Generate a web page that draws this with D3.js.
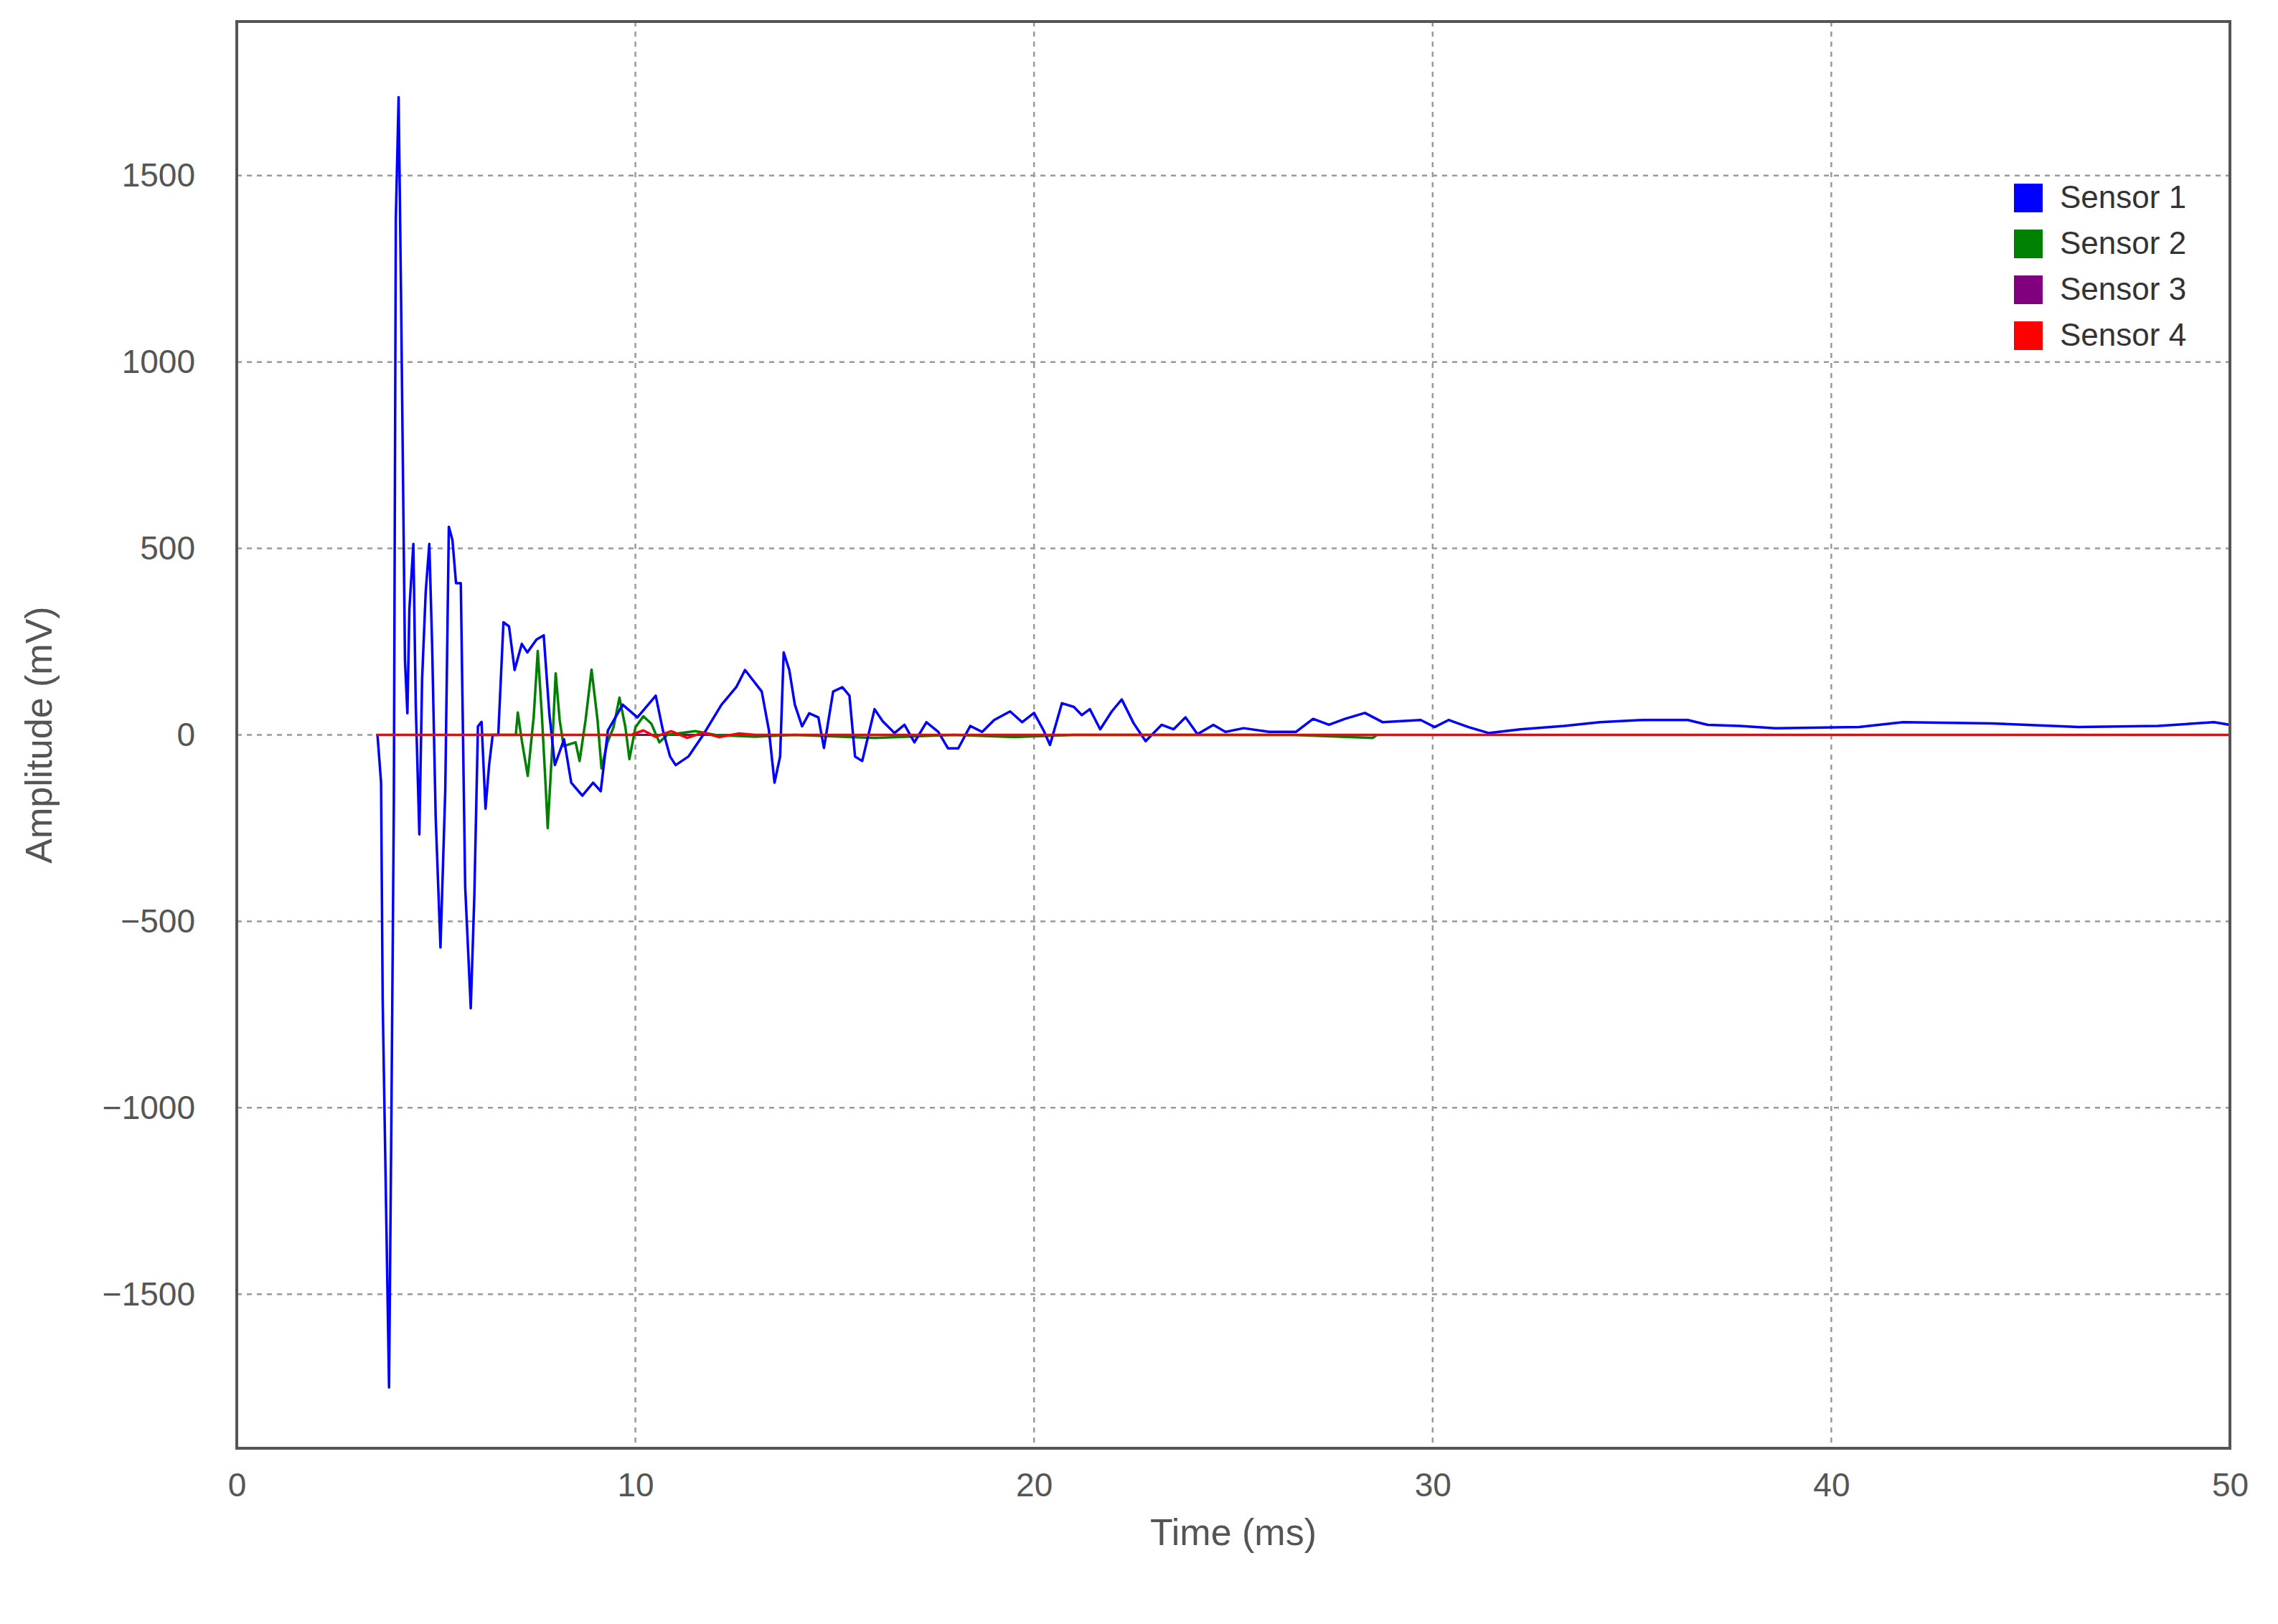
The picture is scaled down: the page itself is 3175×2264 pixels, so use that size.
<!DOCTYPE html>
<html>
<head>
<meta charset="utf-8">
<script src="https://cdn.jsdelivr.net/npm/d3@7"></script>
<style>
body { margin: 0; background: #fff; }
text { font-family: "Liberation Sans", Arial, sans-serif; }
</style>
</head>
<body>
<svg id="chart" width="3175" height="2264"></svg>
<script>
// data: [time ms, amplitude mV]
var sensor1 = [
 [3.53,0],[3.62,-128],[3.66,-710],[3.73,-1163],[3.82,-1750],[3.88,-1012],[3.94,-186],[3.99,1384],
 [4.06,1710],[4.12,1186],[4.22,198],[4.28,58],[4.33,337],[4.43,512],[4.49,81],[4.58,-267],
 [4.65,151],[4.74,384],[4.83,512],[4.90,244],[4.99,-221],[5.11,-570],[5.23,-151],[5.32,558],
 [5.41,523],[5.50,407],[5.62,407],[5.73,-407],[5.87,-733],[5.96,-430],[6.05,23],[6.14,35],
 [6.24,-198],[6.33,-81],[6.42,0],[6.56,0],[6.69,302],[6.83,291],[6.97,174],[7.15,244],
 [7.29,221],[7.52,256],[7.70,267],[7.84,58],[7.98,-81],[8.21,-12],[8.39,-128],[8.67,-163],
 [8.94,-128],[9.13,-151],[9.31,12],[9.68,81],[10.05,47],[10.51,105],[10.69,12],[10.87,-58],
 [11.01,-81],[11.33,-58],[11.70,0],[12.16,81],[12.53,128],[12.75,174],[13.17,116],[13.35,12],
 [13.49,-128],[13.63,-58],[13.72,221],[13.86,174],[14.0,81],[14.18,23],[14.36,58],[14.59,47],
 [14.73,-35],[14.96,116],[15.19,128],[15.37,105],[15.51,-58],[15.69,-70],[16.0,69],[16.2,37],
 [16.5,5],[16.75,27],[17.0,-20],[17.3,34],[17.6,8],[17.84,-36],[18.1,-36],[18.4,24],
 [18.7,8],[19.0,40],[19.4,63],[19.7,34],[20.0,59],[20.24,12],[20.4,-27],[20.7,85],
 [21.0,75],[21.2,53],[21.4,69],[21.66,15],[21.95,63],[22.2,95],[22.5,31],[22.8,-17],
 [23.2,27],[23.5,15],[23.8,47],[24.1,2],[24.5,27],[24.8,8],[25.26,18],[25.9,8],
 [26.57,8],[27.0,43],[27.4,27],[27.8,43],[28.3,59],[28.75,34],[29.7,40],[30.05,21],
 [30.4,40],[30.9,21],[31.4,5],[32.2,15],[33.3,24],[34.2,34],[35.3,40],[36.4,40],
 [36.9,27],[37.7,24],[38.6,18],[40.7,21],[41.8,34],[44.0,31],[46.2,21],[48.2,24],
 [49.6,34],[50.0,27]
];
var sensor2 = [
 [6.0,0],[7.0,0],[7.05,60],[7.15,-15],[7.3,-110],[7.45,50],[7.55,225],[7.65,60],
 [7.75,-140],[7.8,-250],[7.9,-60],[8.0,165],[8.1,40],[8.2,-30],[8.5,-20],[8.6,-70],
 [8.75,40],[8.9,175],[9.05,40],[9.15,-90],[9.3,-20],[9.45,20],[9.6,100],[9.75,20],
 [9.85,-65],[10.0,20],[10.2,50],[10.4,30],[10.6,-20],[10.8,0],[11.5,10],[12.0,0],
 [13.0,-5],[14.0,0],[16.0,-8],[18.0,0],[19.5,-6],[21.0,0],[26.5,0],[28.5,-8],[28.6,0]
];
var sensor3 = [[3.5,0],[50,0]];
var sensor4 = [
 [3.5,0],[9.9,0],[10.2,12],[10.5,-5],[10.9,10],[11.3,-8],[11.7,6],[12.1,-6],[12.6,4],[13.0,0],[50,0]
];
var seriesNames = ["Sensor 1", "Sensor 2", "Sensor 3", "Sensor 4"];
var seriesColors = ["#0000ff", "#008000", "#800080", "#ff0000"];
var xTicks = [0, 10, 20, 30, 40, 50];
var yTicks = [-1500, -1000, -500, 0, 500, 1000, 1500];

var svg = d3.select("#chart");
var pLeft = 330, pRight = 3108, pTop = 30, pBottom = 2019;

var x = d3.scaleLinear().domain([0, 50]).range([pLeft, pRight]);
var y = d3.scaleLinear().domain([-1913, 1913]).range([pBottom, pTop]);

// grid
svg.append("g").selectAll("line").data(xTicks.slice(1, -1)).enter().append("line")
    .attr("x1", d => x(d)).attr("x2", d => x(d)).attr("y1", pTop).attr("y2", pBottom)
    .attr("stroke", "#9a9a9a").attr("stroke-width", 2.5).attr("stroke-dasharray", "7,7");
svg.append("g").selectAll("line").data(yTicks).enter().append("line")
    .attr("x1", pLeft).attr("x2", pRight).attr("y1", d => y(d)).attr("y2", d => y(d))
    .attr("stroke", "#9a9a9a").attr("stroke-width", 2.5).attr("stroke-dasharray", "7,7");

var line = d3.line().x(d => x(d[0])).y(d => y(d[1]));
var all = [sensor1, sensor2, sensor3, sensor4];
var widths = [3.5, 3.5, 3, 3.5];
[2, 1, 0, 3].forEach(function(i) {
    svg.append("path").datum(all[i])
        .attr("d", line).attr("fill", "none")
        .attr("stroke", seriesColors[i]).attr("stroke-width", widths[i])
        .attr("stroke-linejoin", "round");
});

// frame
svg.append("rect").attr("x", pLeft).attr("y", pTop)
    .attr("width", pRight - pLeft).attr("height", pBottom - pTop)
    .attr("fill", "none").attr("stroke", "#555").attr("stroke-width", 4);

// axes
var xAxis = svg.append("g").attr("transform", "translate(0," + pBottom + ")")
    .call(d3.axisBottom(x).tickValues(xTicks).tickSize(0).tickPadding(34));
var yAxis = svg.append("g").attr("transform", "translate(" + pLeft + ",0)")
    .call(d3.axisLeft(y).tickValues(yTicks).tickSize(0).tickPadding(58)
          .tickFormat(d => d < 0 ? "\u2212" + Math.abs(d) : d));
[xAxis, yAxis].forEach(function(a) {
    a.select(".domain").remove();
    a.selectAll("text").attr("font-size", 46).attr("fill", "#555")
        .style("font-family", "Liberation Sans, Arial, sans-serif");
});

svg.append("text").text("Time (ms)")
    .attr("x", (pLeft + pRight) / 2).attr("y", 2154)
    .attr("text-anchor", "middle").attr("font-size", 52).attr("fill", "#555");
svg.append("text").text("Amplitude (mV)")
    .attr("transform", "translate(72," + y(0) + ") rotate(-90)")
    .attr("text-anchor", "middle").attr("font-size", 52).attr("fill", "#555");

// legend
var legend = svg.append("g").selectAll("g").data(seriesNames).enter().append("g")
    .attr("transform", (d, i) => "translate(2807," + (256 + i * 64) + ")");
legend.append("rect").attr("width", 40).attr("height", 40)
    .attr("fill", (d, i) => seriesColors[i]);
legend.append("text").text(d => d).attr("x", 64).attr("y", 34)
    .attr("font-size", 44).attr("fill", "#333");
</script>
</body>
</html>
